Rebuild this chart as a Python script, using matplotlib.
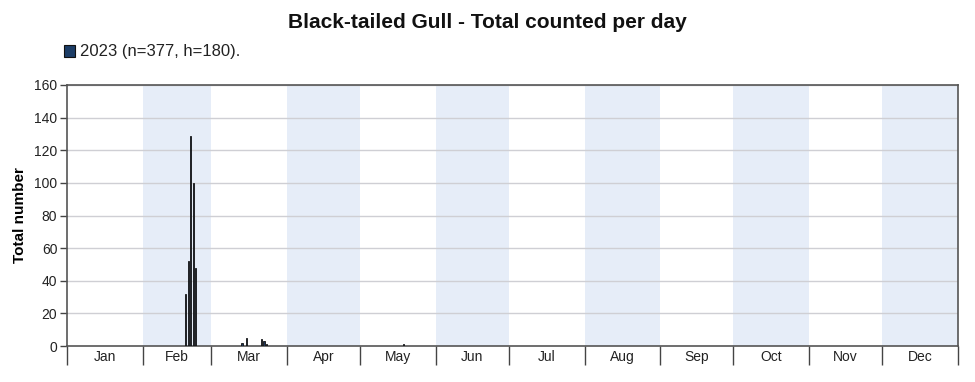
import matplotlib
matplotlib.use("Agg")
import matplotlib.pyplot as plt
import numpy as np

plt.rcParams['font.family'] = ['Liberation Sans', 'DejaVu Sans']

# Data: day-of-year (1-based, 2023) and counts
days = [49, 50, 51, 52, 53, 72, 74, 80, 81, 82, 138]
counts = [32, 52, 129, 100, 48, 2, 5, 4, 3, 1, 1]
months = ['Jan', 'Feb', 'Mar', 'Apr', 'May', 'Jun', 'Jul', 'Aug', 'Sep', 'Oct', 'Nov', 'Dec']
month_lengths = [31, 28, 31, 30, 31, 30, 31, 31, 30, 31, 30, 31]
yticks = [0, 20, 40, 60, 80, 100, 120, 140, 160]
legend_label = '2023 (n=377, h=180).'
title = 'Black-tailed Gull - Total counted per day'

bounds = np.concatenate([[0], np.cumsum(month_lengths)])
mids = (bounds[:-1] + bounds[1:]) / 2

fig = plt.figure(figsize=(9.75, 3.82), dpi=100)
ax = fig.add_axes([0.0687, 0.0942, 0.9139, 0.6833])

for i in range(12):
    if i % 2 == 1:
        ax.axvspan(bounds[i], bounds[i + 1], color='#e6edf8', zorder=0, lw=0)

for y in yticks[1:]:
    ax.axhline(y, color='#cfcfd4', lw=1, zorder=1)

ax.bar(np.array(days) - 0.3, counts, width=0.45, color='#1c3557',
       edgecolor='#111111', linewidth=0.6, zorder=3)

ax.set_xlim(0, 365)
ax.set_ylim(0, 160)
ax.set_yticks(yticks)
ax.set_yticklabels([str(v) for v in yticks], fontsize=10, color='#222222')
ax.set_xticks(bounds)
ax.set_xticklabels([''] * len(bounds))
ax.tick_params(axis='x', length=14, width=1, color='#444444', direction='out')
ax.tick_params(axis='y', length=5, width=1, color='#444444', direction='out', pad=2)
for m, name in zip(mids, months):
    ax.text(m, -6.5, name, ha='center', va='center', fontsize=10, color='#222222',
            transform=ax.transData, clip_on=False)

for s in ax.spines.values():
    s.set_color('#555555')
    s.set_linewidth(1.2)

ax.set_ylabel('Total number', fontsize=11, fontweight='bold', labelpad=5)

fig.text(0.5, 0.940, title, ha='center', va='center', fontsize=15, fontweight='bold', color='#111111')
fig.patches.append(plt.Rectangle((0.0656, 0.851), 0.0113, 0.031, transform=fig.transFigure,
                                 facecolor='#1c3d66', edgecolor='#111111', lw=0.8))
fig.text(0.0825, 0.866, legend_label, ha='left', va='center', fontsize=12, color='#222222')

fig.savefig('out.png', dpi=100)
